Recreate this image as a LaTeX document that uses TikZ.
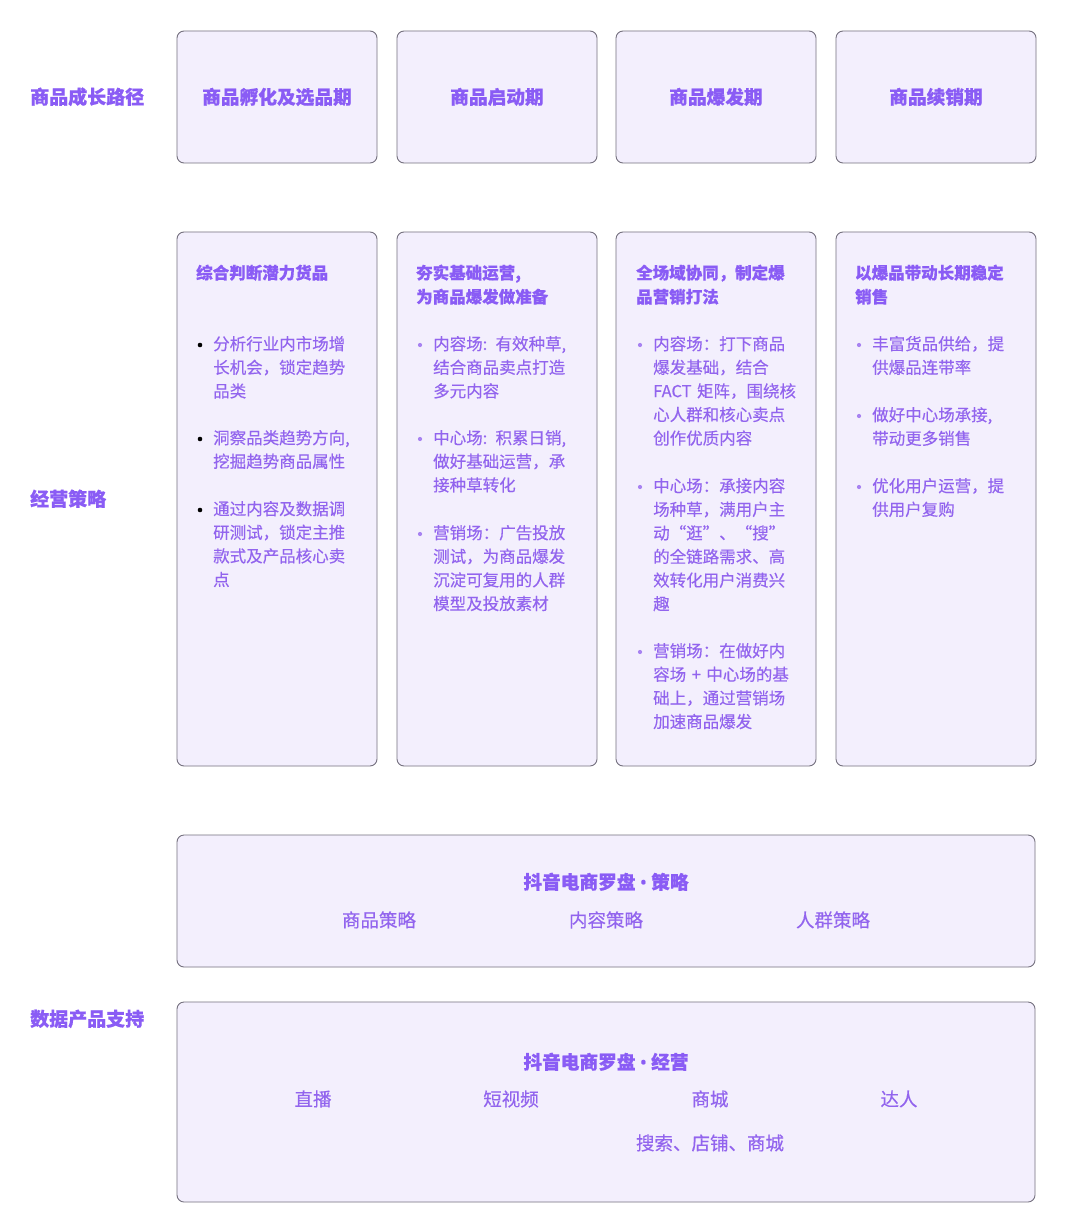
\documentclass[tikz,border=0pt]{standalone}
\usepackage{fontspec}
\setmainfont{Noto Sans CJK SC}
\newfontfamily\headfont{Noto Sans CJK SC}[FakeBold=0.5]
\newfontfamily\itemfont{Noto Sans CJK SC}[FakeBold=0.3]
\newfontfamily\latfont{Noto Sans}[FakeBold=0.5]
\definecolor{ttl}{HTML}{8A5CF5}
\definecolor{txt}{HTML}{9264EE}
\definecolor{boxfill}{HTML}{F3EFFD}
\definecolor{boxline}{HTML}{74707E}
\begin{document}
\begin{tikzpicture}[x=1pt,y=-1pt,
  card/.style={draw=boxline, fill=boxfill, rounded corners=7pt, line width=0.9pt, inner sep=0},
  rowlab/.style={font=\fontsize{19}{22}\headfont\bfseries, text=ttl, inner sep=0, anchor=base west},
  stage/.style={font=\fontsize{18.7}{22}\headfont\bfseries, text=ttl, inner sep=0, anchor=base},
  midtitle/.style={font=\fontsize{16.5}{24}\headfont\bfseries, text=ttl, text width=175pt, align=left, anchor=base west, inner sep=0},
  item/.style={font=\fontsize{16.5}{23.6}\itemfont, text=txt, text width=175pt, align=left, anchor=base west, inner sep=0},
  tool/.style={font=\fontsize{18.5}{22}\itemfont, text=txt, inner sep=0, anchor=base},
  dotb/.style={fill=black},
  dotp/.style={fill=txt!80}
]
\useasboundingbox[fill=white] (0,0) rectangle (1080,1230);

% row labels
\node[rowlab] (r1) at (30,104) {商品成长路径};
\node[rowlab] (r2) at (30,506) {经营策略};
\node[rowlab] (r3) at (30,1026) {数据产品支持};

% top boxes
\node[card, minimum width=200pt, minimum height=132pt] (s1) at (277,97) {};
\node[card, minimum width=200pt, minimum height=132pt] (s2) at (497,97) {};
\node[card, minimum width=200pt, minimum height=132pt] (s3) at (716,97) {};
\node[card, minimum width=200pt, minimum height=132pt] (s4) at (936,97) {};
\node[stage] (t1) at (277,104) {商品孵化及选品期};
\node[stage] (t2) at (497,104) {商品启动期};
\node[stage] (t3) at (716,104) {商品爆发期};
\node[stage] (t4) at (936,104) {商品续销期};

% middle boxes
\node[card, minimum width=200pt, minimum height=534pt] (m1) at (277,499) {};
\node[card, minimum width=200pt, minimum height=534pt] (m2) at (497,499) {};
\node[card, minimum width=200pt, minimum height=534pt] (m3) at (716,499) {};
\node[card, minimum width=200pt, minimum height=534pt] (m4) at (936,499) {};

% column 1
\node[midtitle] (h1) at (196,279) {综合判断潜力货品};
\fill[dotb] (200,345) circle (2.3pt);
\node[item] (a1) at (213,350) {分析行业内市场增\\长机会，锁定趋势\\品类};
\fill[dotb] (200,439) circle (2.3pt);
\node[item] (a2) at (213,444) {洞察品类趋势方向,\\挖掘趋势商品属性};
\fill[dotb] (200,510) circle (2.3pt);
\node[item] (a3) at (213,515) {通过内容及数据调\\研测试，锁定主推\\款式及产品核心卖\\点};

% column 2
\node[midtitle] (h2) at (416,279) {夯实基础运营,\\为商品爆发做准备};
\fill[dotp] (420,345) circle (2.1pt);
\node[item] (b1) at (433,350) {内容场: 有效种草,\\结合商品卖点打造\\多元内容};
\fill[dotp] (420,439) circle (2.1pt);
\node[item] (b2) at (433,444) {中心场: 积累日销,\\做好基础运营，承\\接种草转化};
\fill[dotp] (420,534) circle (2.1pt);
\node[item] (b3) at (433,539) {营销场：广告投放\\测试，为商品爆发\\沉淀可复用的人群\\模型及投放素材};

% column 3
\node[midtitle] (h3) at (636,279) {全场域协同，制定爆\\品营销打法};
\fill[dotp] (640,345) circle (2.1pt);
\node[item] (c1) at (653,350) {内容场：打下商品\\爆发基础，结合\\FACT 矩阵，围绕核\\心人群和核心卖点\\创作优质内容};
\fill[dotp] (640,487) circle (2.1pt);
\node[item] (c2) at (653,492) {中心场：承接内容\\场种草，满用户主\\动“逛”、“搜”\\的全链路需求、高\\效转化用户消费兴\\趣};
\fill[dotp] (640,652) circle (2.1pt);
\node[item] (c3) at (653,657) {营销场：在做好内\\容场 + 中心场的基\\础上，通过营销场\\加速商品爆发};

% column 4
\node[midtitle] (h4) at (855,279) {以爆品带动长期稳定\\销售};
\fill[dotp] (859,345) circle (2.1pt);
\node[item] (d1) at (872,350) {丰富货品供给，提\\供爆品连带率};
\fill[dotp] (859,416) circle (2.1pt);
\node[item] (d2) at (872,421) {做好中心场承接,\\带动更多销售};
\fill[dotp] (859,487) circle (2.1pt);
\node[item] (d3) at (872,492) {优化用户运营，提\\供用户复购};

% bottom boxes
\node[card, minimum width=858pt, minimum height=132pt] (p1) at (606,901) {};
\node[stage] (p1t) at (606,889) {抖音电商罗盘 {\latfont •} 策略};
\node[tool] (p1a) at (379,927) {商品策略};
\node[tool] (p1b) at (606,927) {内容策略};
\node[tool] (p1c) at (833,927) {人群策略};

\node[card, minimum width=858pt, minimum height=200pt] (p2) at (606,1102) {};
\node[stage] (p2t) at (606,1069) {抖音电商罗盘 {\latfont •} 经营};
\node[tool] (p2a) at (313,1106) {直播};
\node[tool] (p2b) at (511,1106) {短视频};
\node[tool] (p2c) at (710,1106) {商城};
\node[tool] (p2d) at (899,1106) {达人};
\node[tool] (p2e) at (710,1150) {搜索、店铺、商城};
\end{tikzpicture}
\end{document}
